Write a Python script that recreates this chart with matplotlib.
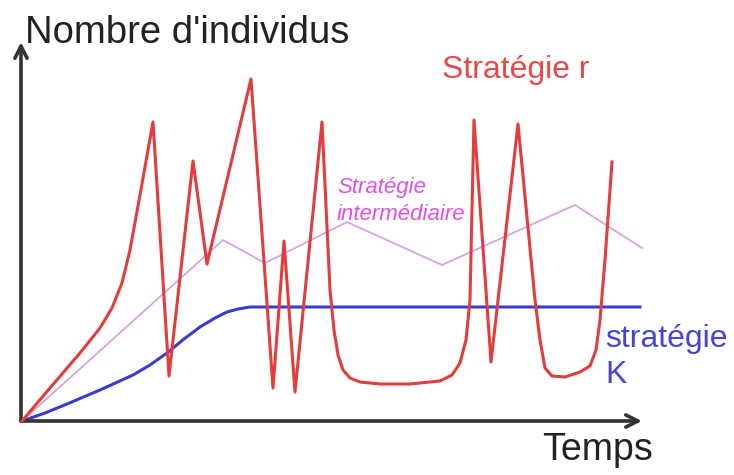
import numpy as np
import matplotlib.pyplot as plt

plt.rcParams['font.family'] = ['Liberation Sans', 'DejaVu Sans']

# values (time, number of individuals), arbitrary units
r_time = [0, 28, 58, 78, 90, 100, 108, 118, 131, 147, 171, 185, 229, 251, 262, 273, 300,
          308, 312, 316, 321, 328, 338, 358, 388, 418, 430, 438, 444, 448, 452, 469, 496,
          513, 518, 523, 530, 543, 558, 568, 574, 578, 583, 590]
r_count = [0, 33, 68, 93, 113, 138, 171, 226, 299, 45, 260, 157, 342, 33, 180, 29, 299,
           131, 91, 66, 51, 43, 39, 37, 37, 40, 46, 58, 81, 121, 301, 59, 297,
           121, 81, 53, 45, 44, 49, 55, 71, 101, 161, 259]

k_time = [0, 23, 45, 78, 111, 128, 145, 162, 178, 193, 205, 216, 228, 248, 618]
k_count = [0, 8, 17, 31, 46, 56, 68, 82, 94, 103, 109, 112, 114, 114, 114]

mid_time = [0, 201, 243, 325, 420, 553, 620]
mid_count = [0, 181, 158, 199, 156, 216, 173]

fig = plt.figure(figsize=(7.34, 4.75), dpi=100)
ax = fig.add_axes([0, 0, 1, 1])
ax.set_xlim(-22, 712)
ax.set_ylim(-54, 421)
ax.axis('off')

ax.plot(mid_time, mid_count, color='#d9a3e3', lw=1.3, zorder=2)
ax.plot(k_time, k_count, color='#3b3bd0', lw=2.2, zorder=3,
        solid_joinstyle='round')
ax.plot(r_time, r_count, color='#e23c3c', lw=2.2, zorder=4,
        solid_joinstyle='round')

# axes arrows
arrow = dict(arrowstyle='->', color='#333333', lw=2.6, mutation_scale=22,
             shrinkA=0, shrinkB=0)
ax.annotate('', xy=(-1, 379), xytext=(-1, 0), arrowprops=arrow)
ax.annotate('', xy=(620, 0), xytext=(-1, 0), arrowprops=arrow)

ax.text(3, 378, "Nombre d'individus", fontsize=27.5, color='#222222', va='baseline')
ax.text(520, -39, "Temps", fontsize=27, color='#222222', va='baseline')
ax.text(420, 343, "Stratégie r", fontsize=23, color='#e84848', va='baseline')
ax.text(315, 228, "Stratégie", fontsize=16, color='#e050e8', va='baseline',
        style='italic')
ax.text(315, 201, "intermédiaire", fontsize=16, color='#e050e8', va='baseline',
        style='italic')
ax.text(583, 74, "stratégie", fontsize=23, color='#4545d8', va='baseline')
ax.text(583, 38, "K", fontsize=23, color='#4545d8', va='baseline')

fig.savefig('out.png', dpi=100)
